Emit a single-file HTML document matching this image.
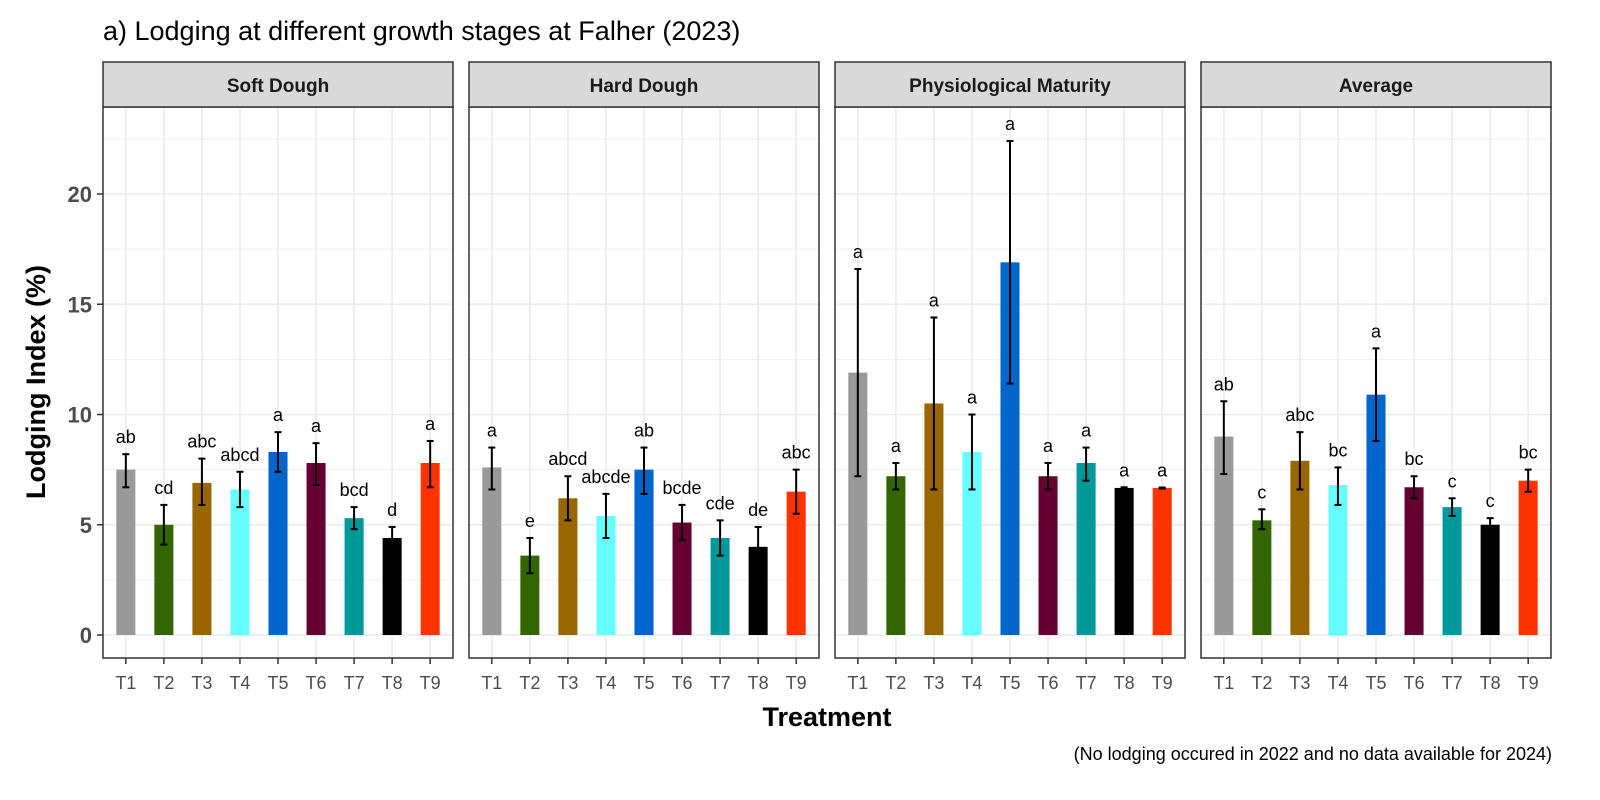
<!DOCTYPE html>
<html><head><meta charset="utf-8"><style>
html,body{margin:0;padding:0;background:#fff;width:1600px;height:800px;overflow:hidden;font-family:"Liberation Sans",Arial,sans-serif}
svg{display:block}
</style></head><body>
<svg id="chart" width="1600" height="800" viewBox="0 0 1600 800" xmlns="http://www.w3.org/2000/svg" font-family="Liberation Sans, Arial, sans-serif"></svg>
<script>
const categories=["T1","T2","T3","T4","T5","T6","T7","T8","T9"];
const panels=["Soft Dough","Hard Dough","Physiological Maturity","Average"];
const colors=["#999999","#336600","#996600","#66FFFF","#0066CC","#660033","#009999","#000000","#FF3300"];
const softMean=[7.5,5.0,6.9,6.6,8.3,7.8,5.3,4.4,7.8];
const softLo=[6.7,4.1,5.9,5.8,7.4,6.8,4.8,3.9,6.7];
const softHi=[8.2,5.9,8.0,7.4,9.2,8.7,5.8,4.9,8.8];
const softLet=["ab","cd","abc","abcd","a","a","bcd","d","a"];
const hardMean=[7.6,3.6,6.2,5.4,7.5,5.1,4.4,4.0,6.5];
const hardLo=[6.6,2.8,5.2,4.4,6.4,4.3,3.6,3.1,5.5];
const hardHi=[8.5,4.4,7.2,6.4,8.5,5.9,5.2,4.9,7.5];
const hardLet=["a","e","abcd","abcde","ab","bcde","cde","de","abc"];
const pmMean=[11.9,7.2,10.5,8.3,16.9,7.2,7.8,6.67,6.67];
const pmLo=[7.2,6.6,6.6,6.6,11.4,6.6,7.0,6.62,6.64];
const pmHi=[16.6,7.8,14.4,10.0,22.4,7.8,8.5,6.7,6.69];
const pmLet=["a","a","a","a","a","a","a","a","a"];
const avgMean=[9.0,5.2,7.9,6.8,10.9,6.7,5.8,5.0,7.0];
const avgLo=[7.3,4.8,6.6,5.9,8.8,6.2,5.4,4.7,6.5];
const avgHi=[10.6,5.7,9.2,7.6,13.0,7.2,6.2,5.3,7.5];
const avgLet=["ab","c","abc","bc","a","bc","c","c","bc"];
const yTicks=[0,5,10,15,20];
const means=[softMean,hardMean,pmMean,avgMean],los=[softLo,hardLo,pmLo,avgLo],his=[softHi,hardHi,pmHi,avgHi],lets=[softLet,hardLet,pmLet,avgLet];

const svg=document.getElementById('chart');const NS="http://www.w3.org/2000/svg";
function mk(t,a,p){const e=document.createElementNS(NS,t);for(const k in a)e.setAttribute(k,a[k]);(p||svg).appendChild(e);return e;}
const pTop=107,pBot=658,pW=350,panelX=[103,469,835,1201];
const y=v=>635-v*22.05;
const step=pW/(categories.length+0.2);
function x(px,i){return px+step*(0.6+i);}

let t=mk('text',{x:103,y:40,'font-size':27,fill:'#000'});t.textContent="a) Lodging at different growth stages at Falher (2023)";



panels.forEach((name,p)=>{
 const px=panelX[p];
 const g=mk('g',{});
 
 
 for(let v=-2.5;v<=25;v+=2.5){const yy=y(v);if(yy<pTop||yy>pBot)continue;
  mk('line',{x1:px,x2:px+pW,y1:yy,y2:yy,stroke:'#ebebeb','stroke-width':(v%5===0)?1.6:0.8},g);}
 categories.forEach((c,i)=>mk('line',{x1:x(px,i),x2:x(px,i),y1:pTop,y2:pBot,stroke:'#ebebeb','stroke-width':1.6},g));
 categories.forEach((c,i)=>{
  const cx=x(px,i),m=means[p][i];
  const b=mk('rect',{x:cx-step*0.25,y:y(m),width:step*0.5,height:y(0)-y(m),fill:colors[i]},g);
  
  
  const lo=y(los[p][i]),hi=y(his[p][i]);
  mk('line',{x1:cx,x2:cx,y1:lo,y2:hi,stroke:'#000','stroke-width':2},g);
  mk('line',{x1:cx-3.5,x2:cx+3.5,y1:lo,y2:lo,stroke:'#000','stroke-width':2},g);
  mk('line',{x1:cx-3.5,x2:cx+3.5,y1:hi,y2:hi,stroke:'#000','stroke-width':2},g);
  const l=mk('text',{x:cx,y:hi-11,'text-anchor':'middle','font-size':18,fill:'#000'},g);l.textContent=lets[p][i];
  
  
  mk('line',{x1:cx,x2:cx,y1:pBot,y2:pBot+6,stroke:'#333','stroke-width':1.5},g);
  const tl=mk('text',{x:cx,y:pBot+31,'text-anchor':'middle','font-size':18,fill:'#4d4d4d'},g);tl.textContent=c;
  
  
 });
 mk('rect',{x:px,y:pTop,width:pW,height:pBot-pTop,fill:'none',stroke:'#333','stroke-width':1.5},g);
 mk('rect',{x:px,y:62,width:pW,height:45,fill:'#d9d9d9',stroke:'#333','stroke-width':1.5},g);
 const st=mk('text',{x:px+pW/2,y:92,'text-anchor':'middle','font-size':19,'font-weight':'bold',fill:'#1a1a1a'},g);st.textContent=name;
 
 
});
yTicks.forEach(v=>{
 mk('line',{x1:97,x2:103,y1:y(v),y2:y(v),stroke:'#333','stroke-width':1.5});
 const tl=mk('text',{x:92,y:y(v)+8,'text-anchor':'end','font-size':22,'font-weight':'bold',fill:'#4d4d4d'});tl.textContent=v;
 
 
});
t=mk('text',{x:827,y:726,'text-anchor':'middle','font-size':27,'font-weight':'bold',fill:'#000'});t.textContent="Treatment";


t=mk('text',{x:0,y:0,'text-anchor':'middle','font-size':27,'font-weight':'bold',fill:'#000',transform:'translate(45,382) rotate(-90)'});t.textContent="Lodging Index (%)";


t=mk('text',{x:1552,y:760,'text-anchor':'end','font-size':18,fill:'#000'});t.textContent="(No lodging occured in 2022 and no data available for 2024)";


</script></body></html>
